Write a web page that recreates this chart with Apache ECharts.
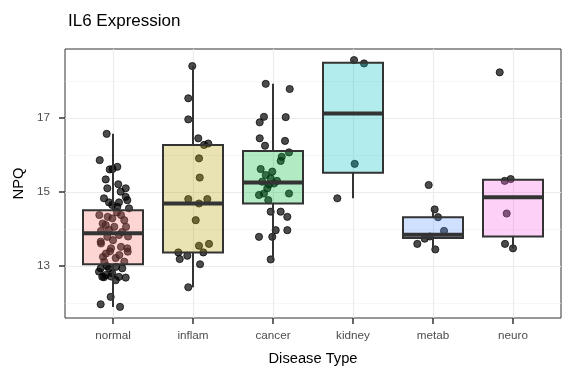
<!DOCTYPE html>
<html>
<head>
<meta charset="utf-8">
<script src="https://cdn.jsdelivr.net/npm/echarts@6/dist/echarts.min.js"></script>
<style>html,body{margin:0;padding:0;background:#fff}#chart{width:576px;height:384px}</style>
</head>
<body>
<div id="chart"></div>
<script>
// ---- Data ----
const categories = ['normal', 'inflam', 'cancer', 'kidney', 'metab', 'neuro'];
const yTicks = [13, 15, 17];
const yMinorGrid = [12, 14, 16, 18];

// box statistics per category
const whiskerLow  = [11.90, 12.43, 13.18, 14.83, 13.45, 13.48];
const q1          = [13.05, 13.37, 14.69, 15.52, 13.76, 13.80];
const median      = [13.89, 14.69, 15.26, 17.12, 13.85, 14.86];
const q3          = [14.51, 16.27, 16.11, 18.49, 14.32, 15.33];
const whiskerHigh = [16.57, 18.40, 17.92, 18.56, 14.53, 15.35];

// jittered points: NPQ values and horizontal jitter (in category units)
const normalNPQ = [16.57,15.86,15.61,15.68,15.62,15.34,15.21,15.10,15.10,15.01,14.83,14.87,14.72,14.72,14.78,14.65,14.56,14.60,
  14.38,14.33,14.38,14.24,14.15,14.06,14.06,14.29,14.11,14.45,13.95,13.98,13.92,13.79,13.84,13.80,13.61,13.48,13.52,13.34,13.30,13.39,13.12,13.12,13.66,13.70,13.48,13.22,13.40,13.25,
  12.94,12.76,12.71,12.81,12.71,12.69,12.94,12.94,12.85,12.62,13.00,12.98,12.17,11.97,11.90,12.70,12.72];
const normalJitter = [-0.079,-0.166,-0.041,0.054,-0.006,-0.091,0.066,0.159,-0.071,0.096,-0.113,0.159,-0.05,0.075,0.179,-0.009,0.2,0.054,
  -0.171,-0.066,0.1,0.141,-0.129,0.016,0.163,-0.009,-0.091,0.05,-0.15,-0.05,0.113,-0.071,0.075,0.188,-0.15,-0.025,0.1,-0.088,0.079,0.184,-0.109,0.141,-0.154,0,0.179,0.034,-0.038,-0.125,
  -0.154,-0.091,-0.134,-0.009,0.075,0.159,-0.05,0.116,-0.175,0.034,-0.075,0.038,-0.029,-0.154,0.088,-0.113,-0.025];

const inflamNPQ = [18.40,17.53,16.96,16.45,16.27,16.31,15.91,15.39,14.81,14.69,14.81,14.24,13.55,13.60,13.37,13.19,13.28,13.37,13.05,12.43];
const inflamJitter = [-0.009,-0.059,-0.059,0.066,0.138,0.191,0.075,0.084,-0.059,0.075,0.179,0.034,0.075,0.2,-0.184,-0.166,-0.071,0.129,0.088,-0.059];

const cancerNPQ = [17.92,17.78,17.03,16.88,17.02,16.45,16.25,16.38,16.07,15.95,15.84,15.62,15.55,15.46,15.37,15.28,15.23,15.10,14.96,14.92,14.96,14.78,14.47,14.47,14.33,13.79,13.97,13.97,13.79,13.18,15.30,15.20];
const cancerJitter = [-0.091,0.209,-0.113,-0.166,0.159,-0.166,-0.1,0.15,0.2,0.109,0.096,-0.154,-0.009,-0.091,-0.029,-0.134,0.013,-0.071,-0.113,-0.175,0.2,-0.059,-0.029,0.096,0.179,-0.175,0.034,0.179,-0.009,-0.029,0.05,-0.05];

const kidneyNPQ = [18.56,18.47,15.76,14.83];
const kidneyJitter = [0.013,0.138,0.021,-0.196];

const metabNPQ = [15.19,14.53,14.32,13.95,13.74,13.60,13.45,13.80];
const metabJitter = [-0.054,0.021,0.063,0.138,-0.104,-0.196,0.029,-0.038];

const neuroNPQ = [18.23,15.30,15.35,14.42,13.60,13.48];
const neuroJitter = [-0.166,-0.104,-0.029,-0.079,-0.1,0];

const boxFills = ['rgba(248,118,109,0.3)','rgba(183,159,0,0.3)','rgba(0,186,56,0.3)','rgba(0,191,196,0.3)','rgba(97,156,255,0.3)','rgba(245,100,227,0.3)'];

// ---- Build ----
const groupValues = [normalNPQ, inflamNPQ, cancerNPQ, kidneyNPQ, metabNPQ, neuroNPQ];
const groupJitter = [normalJitter, inflamJitter, cancerJitter, kidneyJitter, metabJitter, neuroJitter];
const pointData = [];
groupValues.forEach((vals, i) => vals.forEach((v, k) => pointData.push([i + groupJitter[i][k], v])));
const boxData = categories.map((c, i) => [i, whiskerLow[i], q1[i], median[i], q3[i], whiskerHigh[i]]);

const FONT = '"Liberation Sans", Arial, Helvetica, sans-serif';
const gridMajor = {color: '#EBEBEB', width: 1.1, type: 'solid'};
const gridMinor = {color: '#F2F2F2', width: 0.6, type: 'solid'};

const markData = [];
yMinorGrid.forEach(v => markData.push({yAxis: v, lineStyle: gridMinor}));
yTicks.forEach(v => markData.push({yAxis: v, lineStyle: gridMajor}));
categories.forEach((c, i) => markData.push({xAxis: i, lineStyle: gridMajor}));

const chart = echarts.init(document.getElementById('chart'), null, {renderer: 'canvas'});
chart.setOption({
  animation: false,
  backgroundColor: '#ffffff',
  textStyle: {fontFamily: FONT},
  title: {
    text: 'IL6 Expression', left: 63, top: 8,
    textStyle: {fontFamily: FONT, fontSize: 17, fontWeight: 'normal', color: '#000'}
  },
  grid: {left: 65, right: 15, top: 49, bottom: 66, show: true, borderColor: '#333333', borderWidth: 1, backgroundColor: '#fff'},
  xAxis: {
    type: 'value', min: -0.6, max: 5.6,
    name: 'Disease Type', nameLocation: 'middle', nameGap: 33,
    nameTextStyle: {fontFamily: FONT, fontSize: 14.7, color: '#000'},
    axisLine: {show: false, onZero: false},
    splitLine: {show: false},
    axisTick: {show: true, customValues: categories.map((c, i) => i), length: 6, lineStyle: {color: '#333', width: 1.5}},
    axisLabel: {customValues: categories.map((c, i) => i), formatter: v => categories[Math.round(v)] || '', fontFamily: FONT, fontSize: 11.7, color: '#4D4D4D', margin: 12}
  },
  yAxis: {
    type: 'value', min: 11.60, max: 18.86,
    name: 'NPQ', nameLocation: 'middle', nameGap: 37,
    nameTextStyle: {fontFamily: FONT, fontSize: 14.7, color: '#000'},
    axisLine: {show: false, onZero: false},
    splitLine: {show: false},
    axisTick: {show: true, customValues: yTicks, length: 6, lineStyle: {color: '#333', width: 1.5}},
    axisLabel: {customValues: yTicks, fontFamily: FONT, fontSize: 11.7, color: '#4D4D4D', margin: 15}
  },
  series: [
    {
      type: 'line', data: [], z: 0, silent: true,
      markLine: {z: 0, silent: true, symbol: ['none', 'none'], label: {show: false}, animation: false, data: markData}
    },
    {
      type: 'scatter', z: 2, data: pointData, symbolSize: 7.2,
      itemStyle: {color: 'rgba(0,0,0,0.7)', borderColor: 'rgba(0,0,0,0.7)', borderWidth: 1, opacity: 1}
    },
    {
      type: 'custom', z: 3, data: boxData,
      encode: {x: 0, y: [1, 2, 3, 4, 5]},
      renderItem: function (params, api) {
        const i = api.value(0);
        const lo = api.coord([i, api.value(1)]);
        const b1 = api.coord([i, api.value(2)]);
        const md = api.coord([i, api.value(3)]);
        const b3 = api.coord([i, api.value(4)]);
        const hi = api.coord([i, api.value(5)]);
        const w = api.size([0.75, 0])[0];
        const x = Math.round(b1[0]);
        const stroke = '#333333';
        return {
          type: 'group',
          children: [
            {type: 'rect', shape: {x: x - 1, y: hi[1], width: 2, height: b3[1] - hi[1]}, style: {fill: stroke}},
            {type: 'rect', shape: {x: x - 1, y: b1[1], width: 2, height: lo[1] - b1[1]}, style: {fill: stroke}},
            {type: 'rect', shape: {x: x - w / 2, y: b3[1], width: w, height: b1[1] - b3[1]}, style: {fill: boxFills[params.dataIndex], stroke: stroke, lineWidth: 2}},
            {type: 'rect', shape: {x: x - w / 2, y: md[1] - 2, width: w, height: 4}, style: {fill: stroke}}
          ]
        };
      }
    }
  ]
});
</script>
</body>
</html>
